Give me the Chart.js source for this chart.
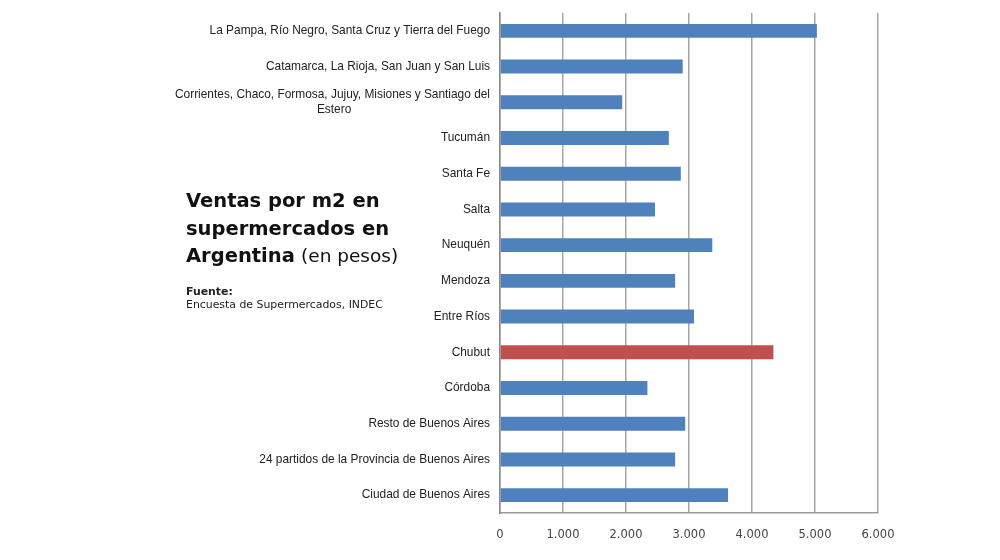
<!DOCTYPE html>
<html>
<head>
<meta charset="utf-8">
<script src="https://cdn.jsdelivr.net/npm/chart.js@4/dist/chart.umd.min.js"></script>
<style>
  body { margin: 0; background: #fff; }
  #wrap { position: relative; width: 1000px; height: 560px; }
  #titulo { position: absolute; left: 186px; top: 187px; font-family: "DejaVu Sans", sans-serif; font-size: 19.5px; line-height: 27.5px; color: #111; }
  #titulo b { font-weight: bold; }
  #titulo span { font-size: 18.5px; }
  #fuente { position: absolute; left: 186px; top: 285px; font-family: "DejaVu Sans", sans-serif; font-size: 10.9px; line-height: 13px; color: #222; }
</style>
</head>
<body>
<div id="wrap">
  <canvas id="grafico" width="1000" height="560"></canvas>
  <div id="titulo"><b>Ventas por m2 en<br>supermercados en<br>Argentina</b> <span>(en pesos)</span></div>
  <div id="fuente"><b>Fuente:</b><br>Encuesta de Supermercados, INDEC</div>
</div>
<script>
// Ventas por m2 por region (pesos)
const regiones = [
  'La Pampa, Río Negro, Santa Cruz y Tierra del Fuego',
  'Catamarca, La Rioja, San Juan y San Luis',
  ['Corrientes, Chaco, Formosa, Jujuy, Misiones y Santiago del', 'Estero'],
  'Tucumán',
  'Santa Fe',
  'Salta',
  'Neuquén',
  'Mendoza',
  'Entre Ríos',
  'Chubut',
  'Córdoba',
  'Resto de Buenos Aires',
  '24 partidos de la Provincia de Buenos Aires',
  'Ciudad de Buenos Aires'
];
const ventas = [5030, 2900, 1940, 2680, 2870, 2460, 3370, 2780, 3080, 4340, 2340, 2940, 2780, 3620];
const destacada = 'Chubut';
const ticksX = [0, 1000, 2000, 3000, 4000, 5000, 6000];

const colores = regiones.map(r => r === destacada ? '#C0504D' : '#4F81BD');
const fuenteY = { family: 'Liberation Sans', size: 11.9, lineHeight: 1.2 };

// miles con punto, como en el original
function formatoMiles(v) {
  return String(v).replace(/\B(?=(\d{3})+(?!\d))/g, '.');
}

// las etiquetas de dos lineas van centradas entre si (se rellena con espacios)
const medidor = document.createElement('canvas').getContext('2d');
medidor.font = fuenteY.size + 'px ' + fuenteY.family;
function centrarLineas(label) {
  if (!Array.isArray(label)) return label;
  const ancho = Math.max(...label.map(l => medidor.measureText(l).width));
  const esp = medidor.measureText('\u00a0').width;
  return label.map(l => {
    const n = Math.round((ancho - medidor.measureText(l).width) / 2 / esp);
    return l + '\u00a0'.repeat(n);
  });
}

new Chart(document.getElementById('grafico'), {
  type: 'bar',
  data: {
    labels: regiones,
    datasets: [{
      data: ventas,
      backgroundColor: colores,
      barPercentage: 0.39,
      categoryPercentage: 1
    }]
  },
  options: {
    indexAxis: 'y',
    responsive: false,
    animation: false,
    layout: { padding: { top: 13, right: 122, left: 0, bottom: 0 } },
    plugins: { legend: { display: false }, tooltip: { enabled: false } },
    scales: {
      x: {
        min: 0,
        max: 6000,
        afterBuildTicks: s => { s.ticks = ticksX.map(v => ({ value: v })); },
        afterFit: s => { s.height = 47; },
        grid: { color: '#a6a6a6', lineWidth: 1.5, drawTicks: false },
        border: { color: '#9a9a9a', width: 1.5 },
        ticks: {
          padding: 15,
          color: '#444',
          font: { family: 'DejaVu Sans', size: 11.5 },
          callback: v => formatoMiles(v)
        }
      },
      y: {
        afterFit: s => { s.width = 500; s.paddingTop = 0; s.paddingBottom = 0; },
        grid: { display: false, drawTicks: false },
        border: { color: '#8a8a8a', width: 1.5 },
        ticks: {
          padding: 10,
          color: '#222',
          font: fuenteY,
          callback: function (v) { return centrarLineas(this.getLabelForValue(v)); }
        }
      }
    }
  }
});
</script>
</body>
</html>
